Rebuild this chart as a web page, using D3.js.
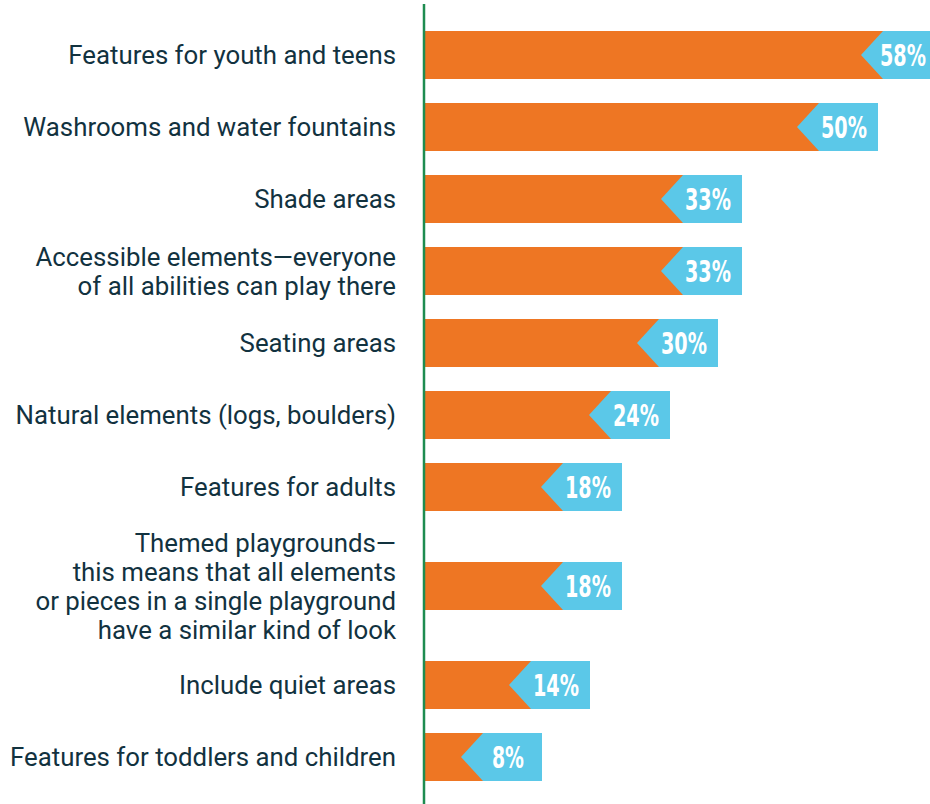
<!DOCTYPE html>
<html>
<head>
<meta charset="utf-8">
<script src="https://cdn.jsdelivr.net/npm/d3@7"></script>
<style>
  body { margin: 0; background: #fff; }
  svg { display: block; }
</style>
</head>
<body>
<div id="chart-area"></div>
<script>
// data
var categories = [
  ["Features for youth and teens"],
  ["Washrooms and water fountains"],
  ["Shade areas"],
  ["Accessible elements\u2014everyone", "of all abilities can play there"],
  ["Seating areas"],
  ["Natural elements (logs, boulders)"],
  ["Features for adults"],
  ["Themed playgrounds\u2014", "this means that all elements", "or pieces in a single playground", "have a similar kind of look"],
  ["Include quiet areas"],
  ["Features for toddlers and children"]
];
var values = [58, 50, 33, 33, 30, 24, 18, 18, 14, 8];
var valueLabels = ["58%", "50%", "33%", "33%", "30%", "24%", "18%", "18%", "14%", "8%"];

var width = 930, height = 804;
var axisX = 425;
var tagW = 59, notch = 22, extra = 53, lineH = 29;

var svg = d3.select("#chart-area")
  .append("svg")
  .attr("width", width)
  .attr("height", height);

// row heights: tall rows for long labels
var rowUnits = categories.map(c => c.length > 2 ? 1.75 : 1);
var starts = [];
var acc = 0;
rowUnits.forEach(u => { starts.push(acc); acc += u; });

var y = d3.scaleLinear()
  .domain([0, acc])
  .range([19, 19 + acc * 72]);

var x = d3.scaleLinear()
  .domain([0, 58])
  .range([axisX, axisX + 464]);

var rows = categories.map((c, i) => ({
  lines: c,
  value: values[i],
  label: valueLabels[i],
  cy: y(starts[i] + rowUnits[i] / 2)
}));

var barH = 48;

var g = svg.selectAll(".row")
  .data(rows)
  .enter()
  .append("g")
  .attr("class", "row");

// orange bar
g.append("rect")
  .attr("x", axisX)
  .attr("y", d => d.cy - barH / 2)
  .attr("width", d => x(d.value) + extra - axisX)
  .attr("height", barH)
  .attr("fill", "#ee7623");

// blue tag with notch
g.append("path")
  .attr("d", d => {
    var end = x(d.value) + extra;
    var t = d.cy - barH / 2, b = d.cy + barH / 2;
    return "M" + end + "," + t +
      "L" + (end - tagW) + "," + t +
      "L" + (end - tagW - notch) + "," + d.cy +
      "L" + (end - tagW) + "," + b +
      "L" + end + "," + b + "Z";
  })
  .attr("fill", "#5bc8e8");

// percent labels, squeezed horizontally to look condensed
g.append("text")
  .attr("text-anchor", "middle")
  .attr("dy", "0.36em")
  .attr("font-family", "DejaVu Sans Condensed, DejaVu Sans")
  .attr("font-stretch", "condensed")
  .attr("font-weight", "bold")
  .attr("font-size", "30px")
  .attr("fill", "#fff")
  .text(d => d.label)
  .attr("transform", function(d) {
    var w = this.getComputedTextLength();
    var target = d.label.length > 2 ? 46 : 32;
    var cx = Math.min(x(d.value) + extra - 34, width - 27);
    return "translate(" + cx + "," + d.cy + ") scale(" + (target / w) + ",1)";
  });

// category labels
g.append("text")
  .attr("text-anchor", "end")
  .attr("font-family", "Roboto, sans-serif")
  .attr("font-size", "25.8px")
  .attr("fill", "#12323f")
  .selectAll("tspan")
  .data(d => d.lines.map((l, i) => ({ l: l, y: d.cy + (i - (d.lines.length - 1) / 2) * lineH })))
  .enter()
  .append("tspan")
  .attr("x", 396)
  .attr("y", d => d.y)
  .attr("dy", "0.36em")
  .text(d => d.l);

// vertical axis line
svg.append("line")
  .attr("x1", axisX - 1)
  .attr("x2", axisX - 1)
  .attr("y1", 4)
  .attr("y2", height)
  .attr("stroke", "#1e8c50")
  .attr("stroke-width", 2.5);
</script>
</body>
</html>
